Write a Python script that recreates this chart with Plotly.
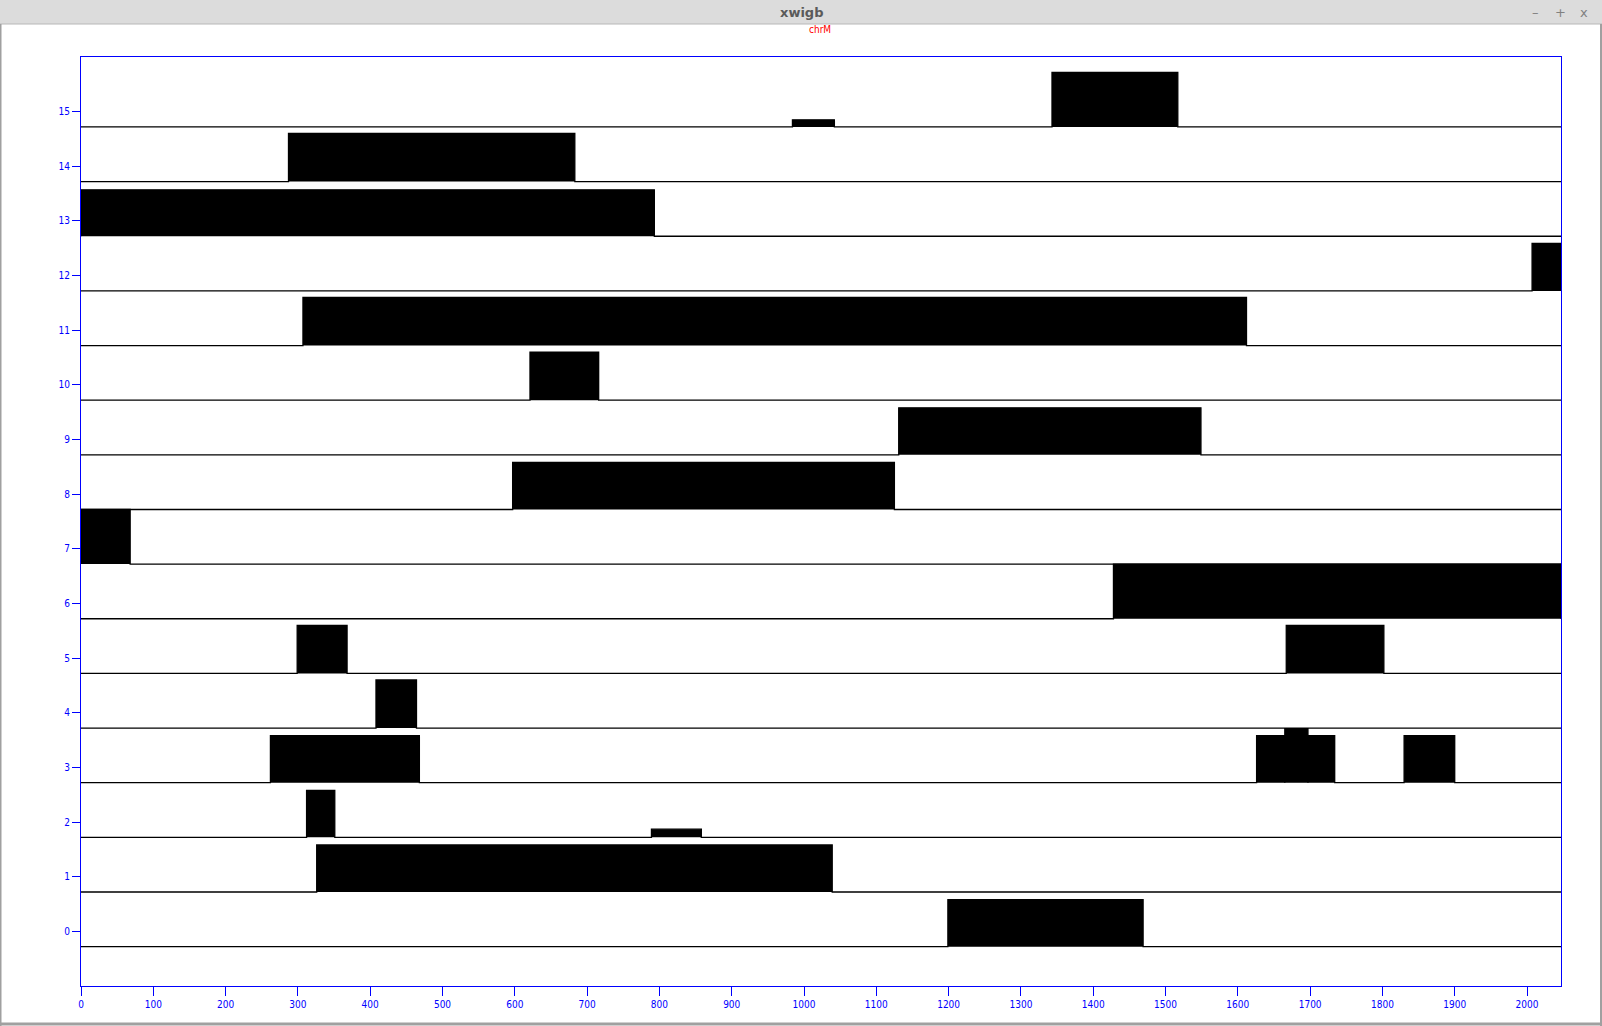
import plotly.graph_objects as go

# ---- data ----
trace_ids = list(range(16))
seg_trace = [0, 1, 2, 2, 3, 3, 3, 3, 3, 4, 5, 5, 6, 7, 8, 9, 10, 11, 12, 13, 14, 15, 15]
seg_start = [1199, 326, 312, 789, 262, 1626, 1665, 1697, 1830, 408, 299, 1667, 1428, 0, 597, 1131, 621, 307, 2007, 0, 287, 984, 1343]
seg_end   = [1469, 1039, 351, 858, 468, 1665, 1697, 1734, 1900, 464, 368, 1802, 2047, 68, 1125, 1549, 716, 1612, 2047, 793, 683, 1042, 1517]
seg_amp   = [0.86, 0.86, 0.86, 0.15, 0.86, 0.86, 0.99, 0.86, 0.86, 0.88, 0.88, 0.88, 1.0, 1.0, 0.86, 0.86, 0.88, 0.88, 0.87, 0.85, 0.88, 0.13, 1.0]
x_ticks = list(range(0, 2001, 100))
y_ticks = list(range(0, 16))
x_min, x_max = 0, 2047
y_min, y_max = -1, 16
baseline_offset = -0.28
plot_title = "chrM"
window_title = "xwigb"

W, H = 1602, 1026
ML, MR, MT, MB = 81, 41, 57, 40

fig = go.Figure()

for k in trace_ids:
    b = k + baseline_offset
    segs = sorted([(s, e, a) for t, s, e, a in zip(seg_trace, seg_start, seg_end, seg_amp) if t == k])
    xs, ys = [x_min], [b]
    for s, e, a in segs:
        xs += [s, s, e, e]
        ys += [b, b + a, b + a, b]
    xs.append(x_max)
    ys.append(b)
    fig.add_trace(go.Scatter(
        x=xs, y=ys, mode="lines", fill="toself", fillcolor="black",
        line=dict(color="black", width=1.3), hoverinfo="skip", showlegend=False,
    ))

axis_common = dict(
    showgrid=False, zeroline=False, showline=True, linecolor="#0000ff", linewidth=1,
    mirror=True, ticks="outside", tickcolor="#0000ff", tickwidth=1,
    tickfont=dict(family="DejaVu Sans Condensed, DejaVu Sans", size=10, color="#0000ff"),
)
fig.update_xaxes(range=[x_min, x_max], tickvals=x_ticks, ticklen=9, **axis_common)
fig.update_yaxes(range=[y_min, y_max], tickvals=y_ticks, ticklen=8, **axis_common)

def px_x(p):
    return (p - ML) / (W - ML - MR)

def px_y(p):
    return (H - MB - p) / (H - MT - MB)

shapes = [
    # window title bar
    dict(type="rect", xref="paper", yref="paper", x0=px_x(0), x1=px_x(W), y0=px_y(24), y1=px_y(0),
         fillcolor="#dcdcdc", line=dict(width=0), layer="above"),
    dict(type="line", xref="paper", yref="paper", x0=px_x(0), x1=px_x(W), y0=px_y(24), y1=px_y(24),
         line=dict(color="#b8b8b8", width=1), layer="above"),
    # window borders
    dict(type="line", xref="paper", yref="paper", x0=px_x(0.5), x1=px_x(0.5), y0=px_y(24), y1=px_y(H),
         line=dict(color="#a0a0a0", width=2), layer="above"),
    dict(type="line", xref="paper", yref="paper", x0=px_x(W - 1), x1=px_x(W - 1), y0=px_y(24), y1=px_y(H),
         line=dict(color="#a0a0a0", width=2), layer="above"),
    dict(type="line", xref="paper", yref="paper", x0=px_x(0), x1=px_x(W), y0=px_y(H - 2), y1=px_y(H - 2),
         line=dict(color="#a0a0a0", width=3), layer="above"),
]

annotations = [
    dict(text=window_title, xref="paper", yref="paper", x=px_x(801), y=px_y(13), showarrow=False,
         font=dict(family="DejaVu Sans", size=13, color="#5a5a5a", weight="bold"),
         xanchor="center", yanchor="middle"),
    dict(text="–", xref="paper", yref="paper", x=px_x(1535), y=px_y(13), showarrow=False,
         font=dict(family="DejaVu Sans", size=13, color="#808080"), xanchor="center", yanchor="middle"),
    dict(text="+", xref="paper", yref="paper", x=px_x(1560), y=px_y(13), showarrow=False,
         font=dict(family="DejaVu Sans", size=13, color="#808080"), xanchor="center", yanchor="middle"),
    dict(text="x", xref="paper", yref="paper", x=px_x(1584), y=px_y(13), showarrow=False,
         font=dict(family="DejaVu Sans", size=13, color="#808080"), xanchor="center", yanchor="middle"),
    dict(text=plot_title, xref="paper", yref="paper", x=px_x(820), y=px_y(29), showarrow=False,
         font=dict(family="DejaVu Sans Condensed, DejaVu Sans", size=10, color="#ff0000"),
         xanchor="center", yanchor="middle"),
]

fig.update_layout(
    width=W, height=H, margin=dict(l=ML, r=MR, t=MT, b=MB, autoexpand=False),
    paper_bgcolor="white", plot_bgcolor="white",
    shapes=shapes, annotations=annotations, showlegend=False,
)

fig.write_html("out.html")
